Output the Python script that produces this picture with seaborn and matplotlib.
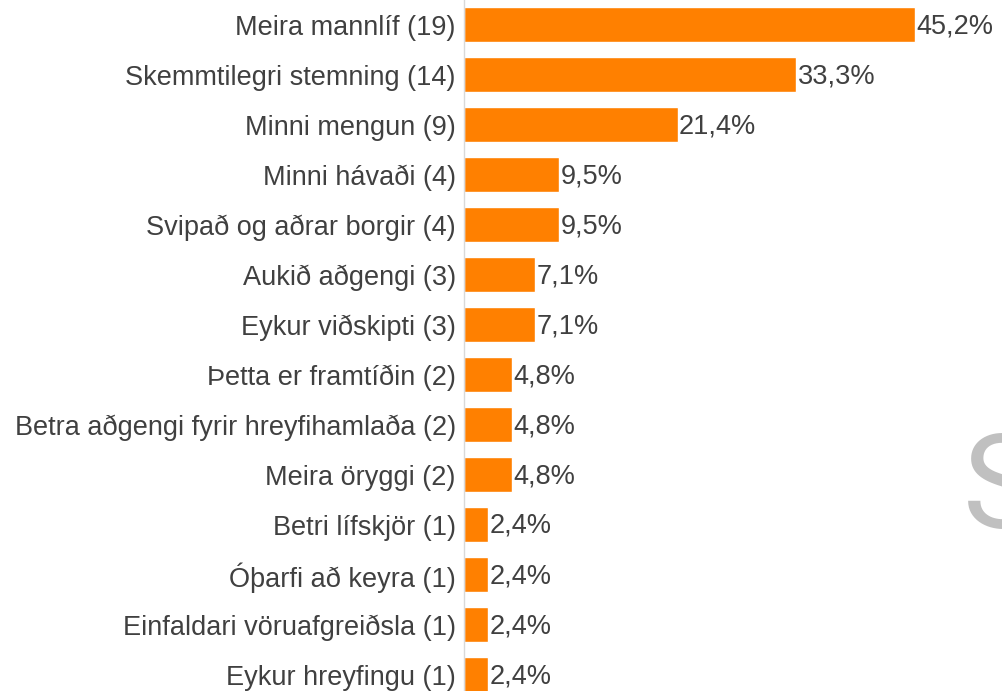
import numpy as np
import pandas as pd
import matplotlib
matplotlib.use("Agg")
import matplotlib.pyplot as plt
import seaborn as sns

categories = [
    "Meira mannlíf (19)",
    "Skemmtilegri stemning (14)",
    "Minni mengun (9)",
    "Minni hávaði (4)",
    "Svipað og aðrar borgir (4)",
    "Aukið aðgengi (3)",
    "Eykur viðskipti (3)",
    "Þetta er framtíðin (2)",
    "Betra aðgengi fyrir hreyfihamlaða (2)",
    "Meira öryggi (2)",
    "Betri lífskjör (1)",
    "Óþarfi að keyra (1)",
    "Einfaldari vöruafgreiðsla (1)",
    "Eykur hreyfingu (1)",
]
percent = [45.2, 33.3, 21.4, 9.5, 9.5, 7.1, 7.1, 4.8, 4.8, 4.8, 2.4, 2.4, 2.4, 2.4]
value_labels = ["45,2%", "33,3%", "21,4%", "9,5%", "9,5%", "7,1%", "7,1%",
                "4,8%", "4,8%", "4,8%", "2,4%", "2,4%", "2,4%", "2,4%"]

df = pd.DataFrame({"cat": categories, "pct": percent})

sns.set_style("white")
plt.rcParams["font.family"] = ["Liberation Sans", "DejaVu Sans"]

fig = plt.figure(figsize=(10.02, 6.91), dpi=100)
ax = fig.add_axes([464 / 1002, 0, 1 - 464 / 1002, 1])

sns.barplot(data=df, x="pct", y="cat", orient="h", color="#ff8000",
            saturation=1, width=0.7, ax=ax)

ax.set_xlim(0, 538 / 9.98)
ax.set_ylim(-0.49 + 691 / 50, -0.49)

for i, (v, lab) in enumerate(zip(percent, value_labels)):
    ax.text(v + 0.15, i + 0.03, lab, va="center", ha="left", fontsize=19.5, color="#404040")

ax.set_xlabel("")
ax.set_ylabel("")
ax.set_xticks([])
ax.tick_params(axis="y", length=0, pad=6, labelsize=19.5, labelcolor="#404040")
for s in ["top", "right", "bottom"]:
    ax.spines[s].set_visible(False)
ax.spines["left"].set_color("#d9d9d9")
ax.spines["left"].set_linewidth(1)

# grey watermark letter cut by the right edge
fig.text(963 / 1002, 163 / 691, "S", fontsize=94, color="#c0c0c0",
         family=["Roboto", "Liberation Sans"], fontweight="normal",
         ha="left", va="baseline")

fig.savefig("out.png", dpi=100)
